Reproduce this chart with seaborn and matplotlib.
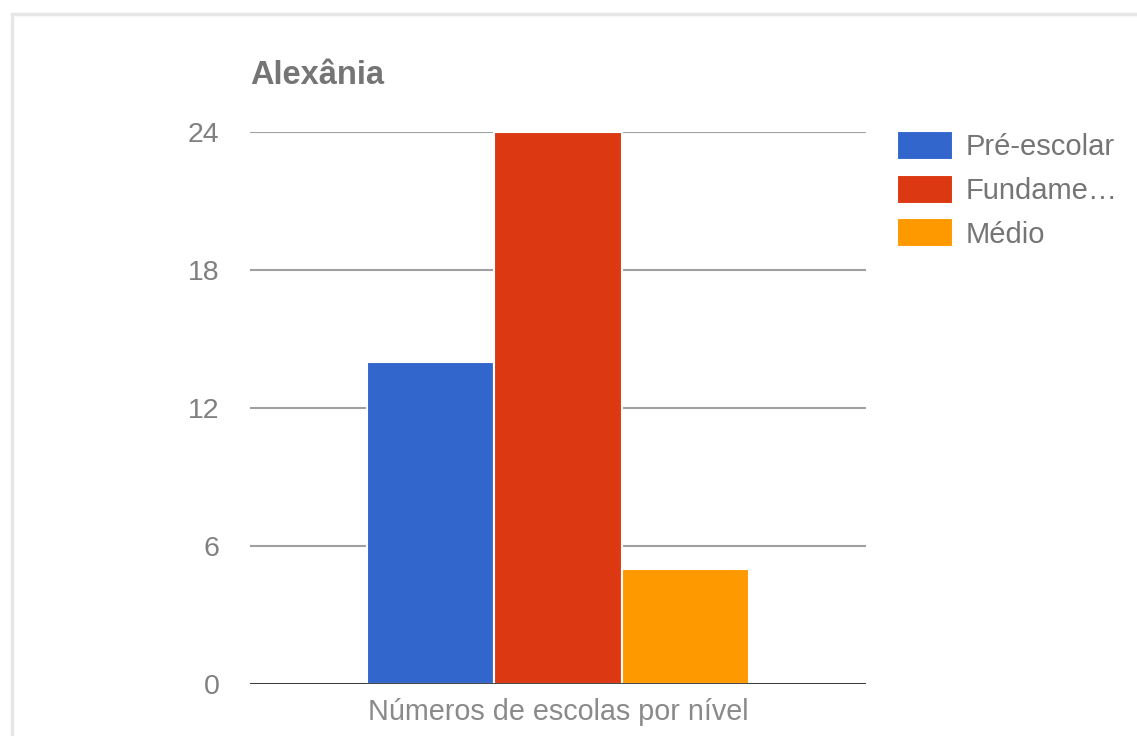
import pandas as pd
import matplotlib
matplotlib.use('Agg')
import matplotlib.pyplot as plt
import seaborn as sns
from matplotlib.patches import Rectangle

# data
categoria = ['Números de escolas por nível']
niveis = ['Pré-escolar', 'Fundame…', 'Médio']
escolas = [14, 24, 5]
cores = ['#3366cc', '#dc3912', '#ff9900']
y_ticks = [0, 6, 12, 18, 24]

df = pd.DataFrame({
    'categoria': categoria * len(niveis),
    'nivel': niveis,
    'escolas': escolas,
})

sns.set_theme(style='white')
plt.rcParams['font.family'] = ['Liberation Sans', 'DejaVu Sans']

fig = plt.figure(figsize=(11.37, 7.36), dpi=100)
ax = fig.add_axes([250 / 1137, 1 - 684 / 736, 616 / 1137, 552 / 736])

sns.barplot(data=df, x='categoria', y='escolas', hue='nivel',
            palette=cores, width=0.62, edgecolor='white', linewidth=1.5,
            saturation=1, ax=ax)

ax.set_ylim(0, 24)
ax.set_xlim(-0.5, 0.5)
ax.set_yticks(y_ticks)
ax.yaxis.grid(True, color='#a0a0a0', linewidth=1.5)
ax.set_axisbelow(True)
ax.axhline(0, color='#333333', linewidth=2, zorder=5)
for s in ax.spines.values():
    s.set_visible(False)
ax.tick_params(axis='y', length=0, pad=22, labelsize=20.5, labelcolor='#808080')
ax.tick_params(axis='x', length=0, pad=10, labelsize=20.7, labelcolor='#8a8a8a')
ax.set_xlabel('')
ax.set_ylabel('')

fig.text(250 / 1137, 1 - 75 / 736, 'Alexânia', fontsize=23.5, fontweight='bold',
         color='#757575', ha='left', va='center')

ax.legend(loc='upper left', bbox_to_anchor=(897 / 1137, 1 - 131 / 736),
          bbox_transform=fig.transFigure, frameon=False, fontsize=21,
          handlelength=1.92, handleheight=1.16, handletextpad=0.45,
          labelspacing=0.45, borderpad=0, borderaxespad=0,
          labelcolor='#757575')

# light frame around the chart area
fig.add_artist(Rectangle((12 / 1137, -0.1), 1.2, 1 - 14 / 736 + 0.1,
                         transform=fig.transFigure, fill=False,
                         edgecolor='#e6e6e6', linewidth=2.5))

fig.savefig('out.png', dpi=100)
